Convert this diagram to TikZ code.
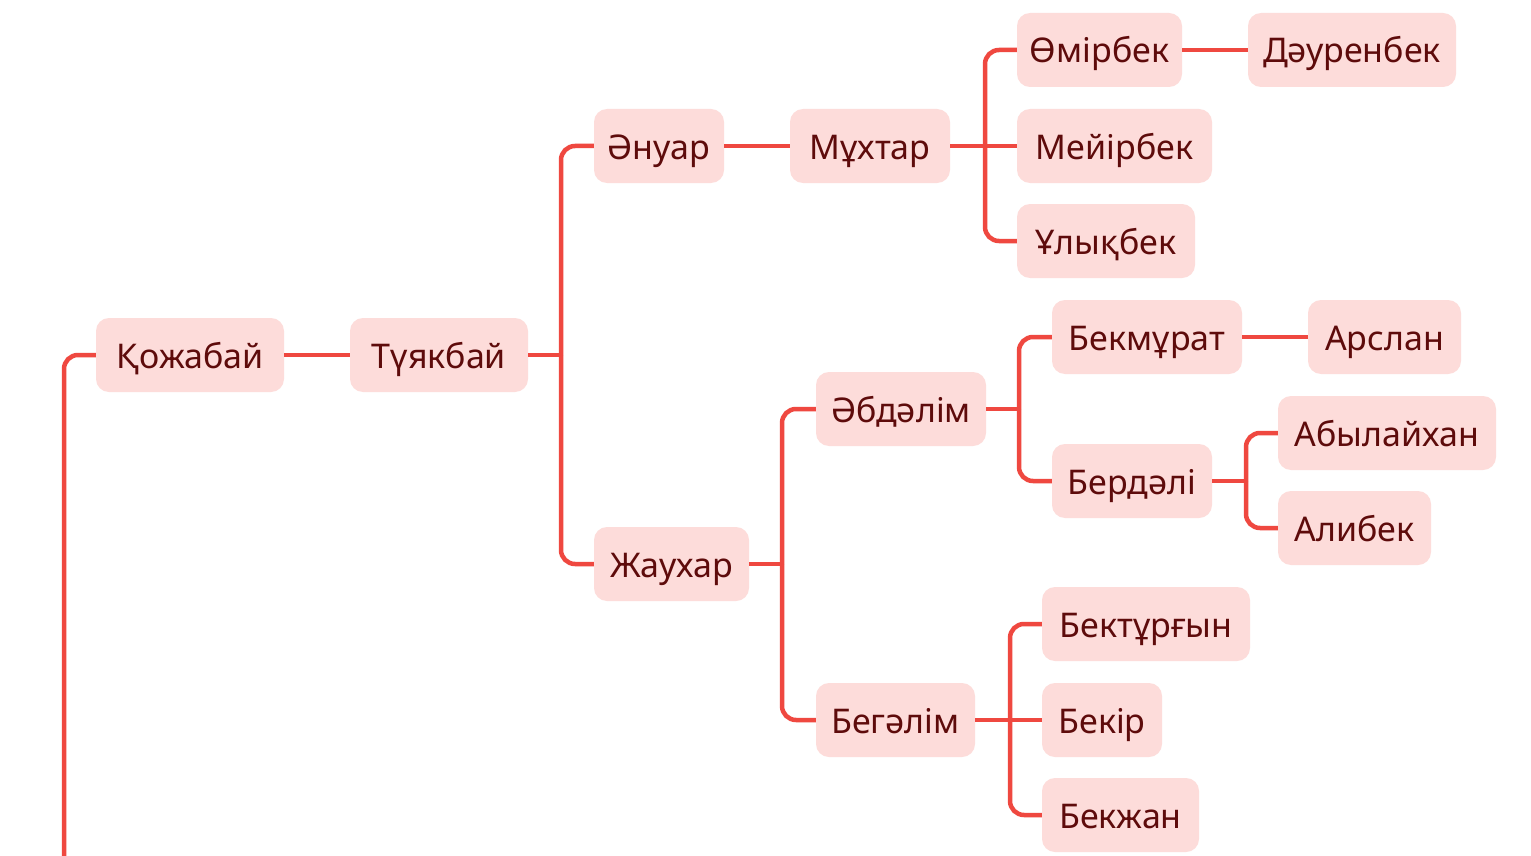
\documentclass[tikz,border=0pt]{standalone}
\usepackage{fontspec}
\setmainfont{Noto Sans}
\definecolor{boxfill}{HTML}{FDDCDA}
\definecolor{boxtext}{HTML}{5E0B0B}
\definecolor{linecol}{HTML}{EF4840}
\tikzset{
  person/.style={fill=boxfill, text=boxtext, rounded corners=13pt, minimum height=74pt,
    inner sep=0pt, text height=26pt, text depth=0pt,
    font=\fontsize{34}{36}\selectfont, anchor=center},
  conn/.style={draw=linecol, line width=4.5pt, rounded corners=14pt},
  straight/.style={draw=linecol, line width=4.5pt}
}
\begin{document}
\begin{tikzpicture}[x=1pt,y=-1pt]
\useasboundingbox (0,0) rectangle (1531,856);
\fill[white] (0,0) rectangle (1531,856);
% nodes
\node[person, minimum width=188pt] (koz) at (190,355) {Қожабай};
\node[person, minimum width=178pt] (tuy) at (439,355) {Түякбай};
\node[person, minimum width=130pt] (anu) at (659,146) {Әнуар};
\node[person, minimum width=160pt] (muk) at (870,146) {Мұхтар};
\node[person, minimum width=165pt] (omi) at (1099.5,50) {Өмірбек};
\node[person, minimum width=208pt] (dau) at (1352,50) {Дәуренбек};
\node[person, minimum width=195pt] (mei) at (1114.5,146) {Мейірбек};
\node[person, minimum width=178pt] (uly) at (1106,241) {Ұлықбек};
\node[person, minimum width=155pt] (zhau) at (671.5,564) {Жаухар};
\node[person, minimum width=170pt] (abd) at (901,409) {Әбдәлім};
\node[person, minimum width=190pt] (bekm) at (1147,337) {Бекмұрат};
\node[person, minimum width=153pt] (ars) at (1384.5,337) {Арслан};
\node[person, minimum width=160pt] (ber) at (1132,481) {Бердәлі};
\node[person, minimum width=218pt] (abyl) at (1387,433) {Абылайхан};
\node[person, minimum width=153pt] (ali) at (1354.5,528) {Алибек};
\node[person, minimum width=159pt] (beg) at (895.5,720) {Бегәлім};
\node[person, minimum width=208pt] (bekt) at (1146,624) {Бектұрғын};
\node[person, minimum width=120pt] (beki) at (1102,720) {Бекір};
\node[person, minimum width=157pt] (bekzh) at (1120.5,815) {Бекжан};
% bus points
\coordinate (rootdown) at (64,860);
\coordinate (btuy) at (561,355);
\coordinate (bmuk) at (985,146);
\coordinate (bzhau) at (782,564);
\coordinate (babd) at (1019,409);
\coordinate (bber) at (1246,481);
\coordinate (bbeg) at (1010,720);
% connectors
\draw[conn] (rootdown) |- (koz.west);
\draw[straight] (koz.east) -- (tuy.west);
\draw[straight] (tuy.east) -- (btuy);
\draw[conn] (btuy) |- (anu.west);
\draw[conn] (btuy) |- (zhau.west);
\draw[straight] (anu.east) -- (muk.west);
\draw[straight] (muk.east) -- (mei.west);
\draw[conn] (bmuk) |- (omi.west);
\draw[conn] (bmuk) |- (uly.west);
\draw[straight] (omi.east) -- (dau.west);
\draw[straight] (zhau.east) -- (bzhau);
\draw[conn] (bzhau) |- (abd.west);
\draw[conn] (bzhau) |- (beg.west);
\draw[straight] (abd.east) -- (babd);
\draw[conn] (babd) |- (bekm.west);
\draw[conn] (babd) |- (ber.west);
\draw[straight] (bekm.east) -- (ars.west);
\draw[straight] (ber.east) -- (bber);
\draw[conn] (bber) |- (abyl.west);
\draw[conn] (bber) |- (ali.west);
\draw[straight] (beg.east) -- (beki.west);
\draw[conn] (bbeg) |- (bekt.west);
\draw[conn] (bbeg) |- (bekzh.west);
\end{tikzpicture}
\end{document}
